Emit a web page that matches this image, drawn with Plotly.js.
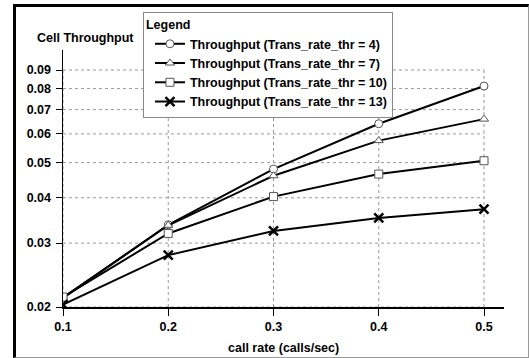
<!DOCTYPE html>
<html>
<head>
<meta charset="utf-8">
<script src="https://cdn.plot.ly/plotly-3.0.1.min.js"></script>
<style>
  html, body { margin: 0; padding: 0; background: #fff; width: 529px; height: 358px; overflow: hidden; }
  #frame { position: absolute; left: 13px; top: 4px; width: 512px; height: 350px;
           border-left: 3px solid #000; border-top: 3px solid #000;
           border-right: 1px solid #999; border-bottom: 1px solid #999; }
  #chart { width: 512px; height: 350px; }
</style>
</head>
<body>
<div id="frame"><div id="chart"></div></div>
<script>
// ---- data ----
const callRates = [0.1, 0.2, 0.3, 0.4, 0.5];
const thr4  = [0.0212, 0.0337, 0.0480, 0.0640, 0.0813];
const thr7  = [0.0212, 0.0336, 0.0460, 0.0575, 0.0659];
const thr10 = [0.0213, 0.0319, 0.0403, 0.0465, 0.0506];
const thr13 = [0.0203, 0.0278, 0.0324, 0.0352, 0.0372];
const seriesNames = [
  'Throughput (Trans_rate_thr = 4)',
  'Throughput (Trans_rate_thr = 7)',
  'Throughput (Trans_rate_thr = 10)',
  'Throughput (Trans_rate_thr = 13)'
];
const xTickVals = [0.1, 0.2, 0.3, 0.4, 0.5];
const xTickText = ['0.1', '0.2', '0.3', '0.4', '0.5'];
const yTickVals = [0.02, 0.03, 0.04, 0.05, 0.06, 0.07, 0.08, 0.09];
const yTickText = ['0.02', '0.03', '0.04', '0.05', '0.06', '0.07', '0.08', '0.09'];

// ---- styling ----
const FONT = 'Liberation Sans, Arial, Helvetica, sans-serif';
const boldFont = (s) => ({ family: FONT, size: s, color: '#000', weight: 'bold' });

const markerDefs = [
  { symbol: 'circle', size: 8, color: '#fff', line: { color: '#555', width: 1 } },
  { symbol: 'triangle-up', size: 8, color: '#fff', line: { color: '#555', width: 1 } },
  { symbol: 'square', size: 8, color: '#fff', line: { color: '#555', width: 1 } },
  { symbol: 'x-thin-open', size: 9, color: '#000', line: { color: '#000', width: 2.5 } }
];
const ys = [thr4, thr7, thr10, thr13];

const traces = ys.map((y, i) => ({
  x: callRates, y: y, name: seriesNames[i],
  type: 'scatter', mode: 'lines+markers',
  line: { color: '#000', width: 2 },
  marker: markerDefs[i]
}));

const xMin = xTickVals[0], xMax = xTickVals[xTickVals.length - 1];
const yMin = yTickVals[0], yMax = yTickVals[yTickVals.length - 1];
const gridStyle = { color: '#999', width: 1, dash: 'dot' };
const shapes = [];
xTickVals.forEach(v => shapes.push({ type: 'line', xref: 'x', yref: 'y', x0: v, x1: v, y0: yMin, y1: yMax, line: gridStyle, layer: 'below' }));
yTickVals.forEach(v => shapes.push({ type: 'line', xref: 'x', yref: 'y', x0: xMin, x1: xMax, y0: v, y1: v, line: gridStyle, layer: 'below' }));

const layout = {
  width: 512, height: 350,
  margin: { l: 47, r: 24, t: 43, b: 50, pad: 0, autoexpand: false },
  paper_bgcolor: '#fff', plot_bgcolor: '#fff',
  font: boldFont(12.5),
  showlegend: true,
  xaxis: {
    type: 'linear', range: [0.1, 0.519],
    tickvals: xTickVals, ticktext: xTickText,
    ticks: 'outside', ticklen: 7, tickwidth: 1, tickcolor: '#000',
    showline: true, linecolor: '#000', linewidth: 1.5,
    showgrid: false, zeroline: false,
    tickfont: boldFont(12.5), fixedrange: true
  },
  yaxis: {
    type: 'log', range: [Math.log10(0.02), Math.log10(0.02) + 0.7084],
    tickvals: yTickVals, ticktext: yTickText,
    ticks: 'outside', ticklen: 6, tickwidth: 1, tickcolor: '#000',
    ticklabelstandoff: 2,
    showline: true, linecolor: '#000', linewidth: 1.5,
    showgrid: false, zeroline: false,
    tickfont: boldFont(12.5), fixedrange: true
  },
  legend: {
    xref: 'container', yref: 'container',
    x: 0.248, y: 0.986, xanchor: 'left', yanchor: 'top',
    bgcolor: '#fff', bordercolor: '#888', borderwidth: 1,
    font: boldFont(12.5),
    title: { text: 'Legend', font: boldFont(12.5), side: 'top' },
    indentation: 6,
    traceorder: 'normal'
  },
  shapes: shapes,
  annotations: [
    { text: 'Cell Throughput', xref: 'paper', yref: 'paper', x: 0.05, y: 1.047,
      xanchor: 'center', yanchor: 'middle', showarrow: false, font: boldFont(12.5) },
    { text: 'call rate (calls/sec)', xref: 'paper', yref: 'paper', x: 0.5, y: -0.1595,
      xanchor: 'center', yanchor: 'middle', showarrow: false, font: boldFont(12.5) }
  ]
};

Plotly.newPlot('chart', traces, layout, { displayModeBar: false, staticPlot: true });
</script>
</body>
</html>
